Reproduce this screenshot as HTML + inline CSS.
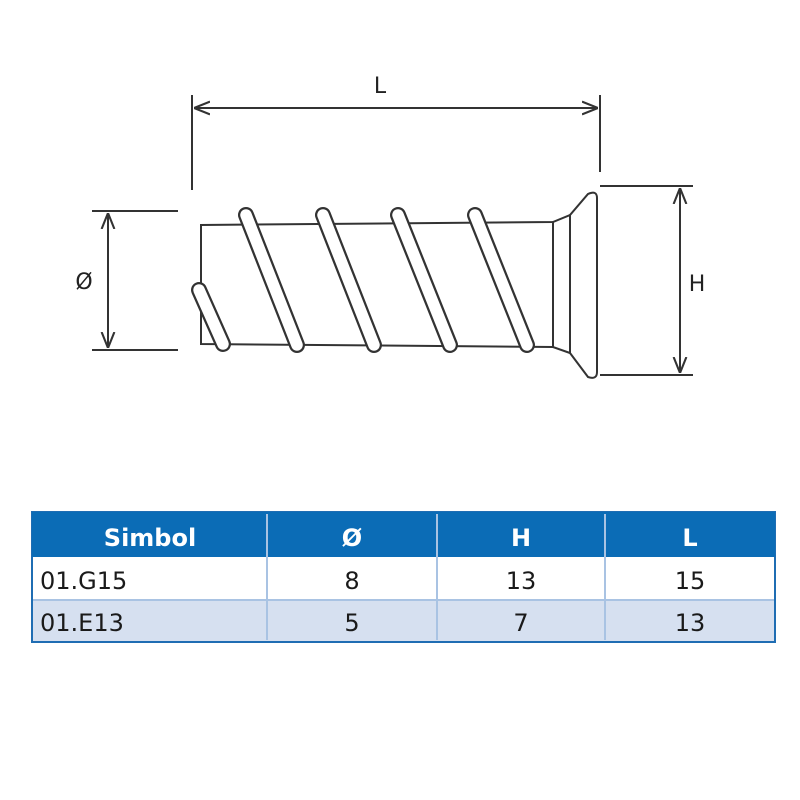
<!DOCTYPE html>
<html><head><style>
body{margin:0;background:#fff;width:800px;height:800px;overflow:hidden;font-family:"DejaVu Sans","Liberation Sans",sans-serif}
</style></head><body>
<svg width="800" height="800" viewBox="0 0 800 800" xmlns="http://www.w3.org/2000/svg" style="position:absolute;left:0;top:0">
<defs>
<marker id="a" viewBox="0 0 10 10" refX="10" refY="5" markerWidth="8" markerHeight="8" orient="auto-start-reverse"><path d="M0,1 L10,5 L0,9" fill="none" stroke="#333" stroke-width="1.3"/></marker>
</defs>
<g stroke="#333" stroke-width="2" fill="none">
<line x1="192" y1="95" x2="192" y2="190"/>
<line x1="600" y1="95" x2="600" y2="172"/>
<line x1="194" y1="108" x2="598" y2="108" marker-start="url(#a)" marker-end="url(#a)"/>
<line x1="600" y1="186" x2="693" y2="186"/>
<line x1="600" y1="375" x2="693" y2="375"/>
<line x1="680" y1="188" x2="680" y2="373" marker-start="url(#a)" marker-end="url(#a)"/>
<line x1="92" y1="211" x2="178" y2="211"/>
<line x1="92" y1="350" x2="178" y2="350"/>
<line x1="108" y1="213" x2="108" y2="348" marker-start="url(#a)" marker-end="url(#a)"/>
</g>
<g stroke="#333" stroke-width="2" fill="#fff" stroke-linecap="round">
<path d="M201,344 L201,225 L553,222 L570,215 L588,194 Q597,190 597,198 L597,372 Q597,380 588,377 L570,353 L553,347 Z" />
<line x1="553" y1="222" x2="553" y2="347"/>
<line x1="570" y1="215" x2="570" y2="353"/>
</g>
<g stroke="#333" stroke-width="16" stroke-linecap="round" fill="none">
<line x1="199" y1="290" x2="223" y2="344"/>
<line x1="246" y1="215" x2="297" y2="345"/>
<line x1="323" y1="215" x2="374" y2="345"/>
<line x1="398" y1="215" x2="450" y2="345"/>
<line x1="475" y1="215" x2="527" y2="345"/>
</g>
<g stroke="#fff" stroke-width="11.5" stroke-linecap="round" fill="none">
<line x1="199" y1="290" x2="223" y2="344"/>
<line x1="246" y1="215" x2="297" y2="345"/>
<line x1="323" y1="215" x2="374" y2="345"/>
<line x1="398" y1="215" x2="450" y2="345"/>
<line x1="475" y1="215" x2="527" y2="345"/>
</g>
<g font-family="DejaVu Sans, Liberation Sans, sans-serif" font-size="22" fill="#222" text-anchor="middle">
<text x="380" y="93">L</text>
<text x="697" y="291">H</text>
<text x="84" y="289">Ø</text>
</g>
<rect x="32" y="512" width="743" height="130" fill="#fff" stroke="#1f6db3" stroke-width="2"/>
<rect x="32" y="512" width="743" height="45" fill="#0b6cb6"/>
<rect x="33" y="600" width="741" height="41" fill="#d6e0f0"/>
<g stroke="#a9c3e3" stroke-width="2">
<line x1="267" y1="514" x2="267" y2="640"/>
<line x1="437" y1="514" x2="437" y2="640"/>
<line x1="605" y1="514" x2="605" y2="640"/>
<line x1="33" y1="600" x2="774" y2="600"/>
</g>
<g font-family="DejaVu Sans, Liberation Sans, sans-serif" font-size="24" text-anchor="middle">
<g fill="#fff" font-weight="bold">
<text x="150" y="546">Simbol</text>
<text x="352" y="546">Ø</text>
<text x="521" y="546">H</text>
<text x="690" y="546">L</text>
</g>
<g fill="#1a1a1a">
<text x="40" y="589" text-anchor="start">01.G15</text>
<text x="352" y="589">8</text>
<text x="521" y="589">13</text>
<text x="690" y="589">15</text>
<text x="40" y="631" text-anchor="start">01.E13</text>
<text x="352" y="631">5</text>
<text x="521" y="631">7</text>
<text x="690" y="631">13</text>
</g>
</g>
</svg>
</body></html>
